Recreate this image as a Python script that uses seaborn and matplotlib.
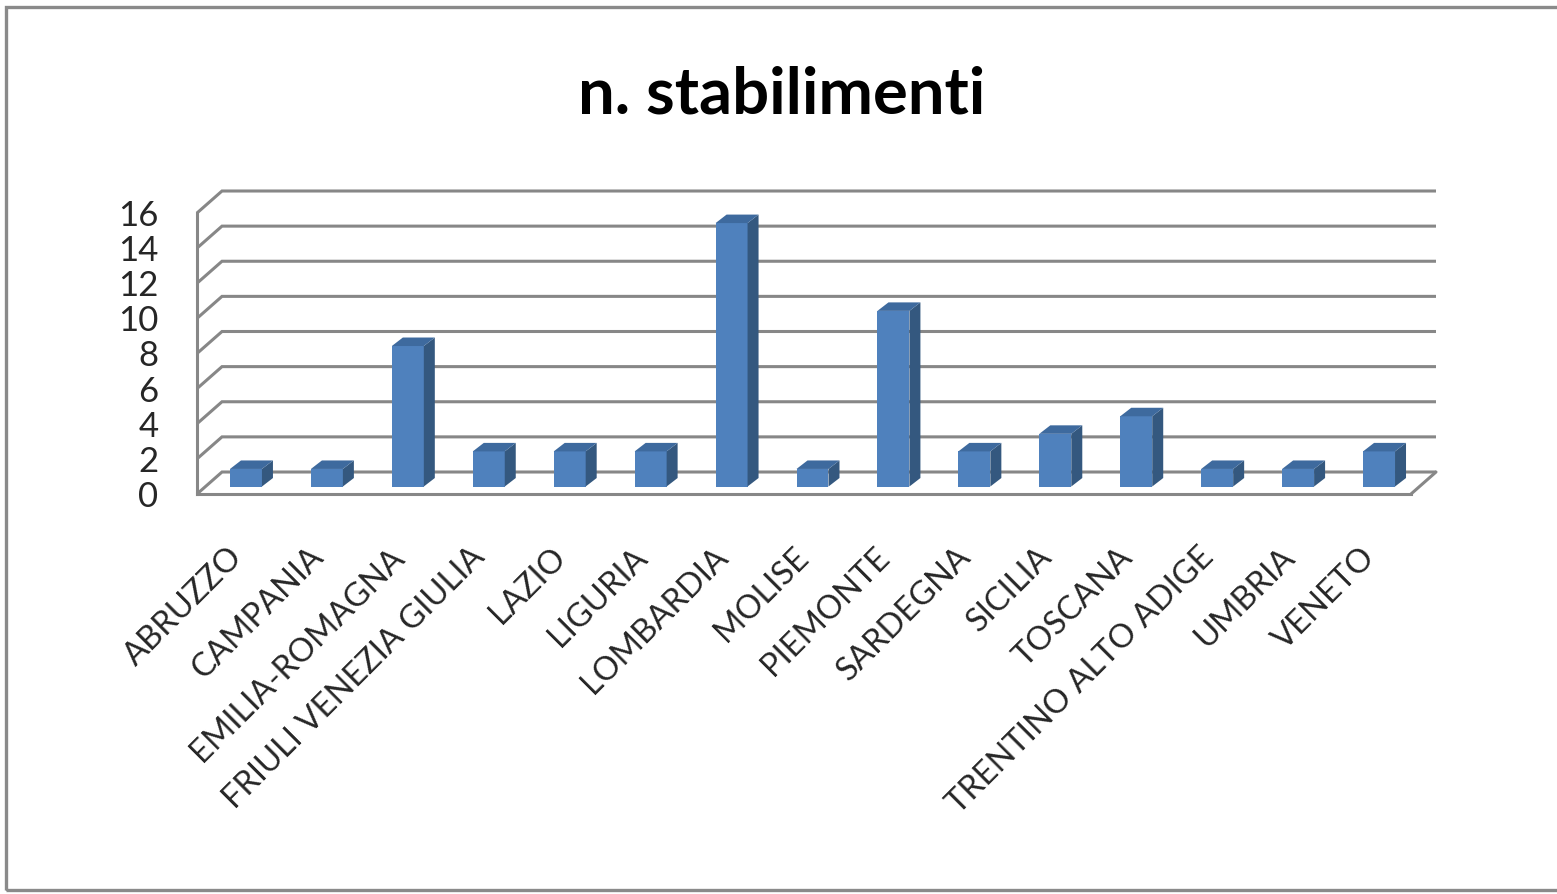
import numpy as np
import matplotlib
matplotlib.use("Agg")
import matplotlib.pyplot as plt
from matplotlib.patches import Polygon, Rectangle
import seaborn as sns

# --- data -------------------------------------------------------------
regions = ["ABRUZZO", "CAMPANIA", "EMILIA-ROMAGNA", "FRIULI VENEZIA GIULIA",
           "LAZIO", "LIGURIA", "LOMBARDIA", "MOLISE", "PIEMONTE", "SARDEGNA",
           "SICILIA", "TOSCANA", "TRENTINO ALTO ADIGE", "UMBRIA", "VENETO"]
stabilimenti = [1, 1, 8, 2, 2, 2, 15, 1, 10, 2, 3, 4, 1, 1, 2]
y_ticks = [0, 2, 4, 6, 8, 10, 12, 14, 16]
title = "n. stabilimenti"

# --- style ------------------------------------------------------------
W, H = 1557, 894
sns.set_style("white")
plt.rcParams["font.family"] = ["Lato", "DejaVu Sans"]

FRONT = "#4F81BD"
SIDE = "#34587F"
TOP = "#3E6A9E"
GRID = "#878787"

fig = plt.figure(figsize=(W / 100, H / 100), dpi=100)
fig.patch.set_facecolor("white")

# front plane of the 3D box, in pixels
left_px, right_px, floor_px, top_px = 197, 1411, 494, 213
ax = fig.add_axes([left_px / W, (H - floor_px) / H,
                   (right_px - left_px) / W, (floor_px - top_px) / H])
ax.set_facecolor("none")

n = len(regions)
x_px_per_unit = (right_px - left_px) / n
y_px_per_unit = (floor_px - top_px) / (y_ticks[-1] - y_ticks[0])

# perspective offsets (pixels converted to data units)
WALL_DX = 25 / x_px_per_unit
WALL_DY = 22 / y_px_per_unit
BAR_DEPTH = 0.34
SIDE_DX = 11 / x_px_per_unit
SIDE_DY = 8.5 / y_px_per_unit

sns.barplot(x=regions, y=stabilimenti, color=FRONT, saturation=1,
            width=0.395, edgecolor="none", ax=ax, zorder=2)
ax.set_xlim(-0.5, n - 0.5)
ax.set_ylim(y_ticks[0], y_ticks[-1])

# back wall gridlines with their receding edges on the left
for v in y_ticks:
    ax.plot([-0.5, -0.5 + WALL_DX, n - 0.5 + WALL_DX],
            [v, v + WALL_DY, v + WALL_DY],
            color=GRID, lw=2.2, clip_on=False, zorder=0.5,
            solid_capstyle="butt", solid_joinstyle="miter")
# right edge of the floor
ax.plot([n - 0.5, n - 0.5 + WALL_DX], [0, WALL_DY],
        color=GRID, lw=2.2, clip_on=False, zorder=0.5)

# push the columns into the box and give them side and top faces
for p in ax.patches:
    p.set_x(p.get_x() + BAR_DEPTH * WALL_DX)
    p.set_y(p.get_y() + BAR_DEPTH * WALL_DY)
    x0, y0 = p.get_x(), p.get_y()
    x1, y1 = x0 + p.get_width(), y0 + p.get_height()
    p.set_clip_on(False)
    side = Polygon([(x1, y0), (x1 + SIDE_DX, y0 + SIDE_DY),
                    (x1 + SIDE_DX, y1 + SIDE_DY), (x1, y1)],
                   closed=True, facecolor=SIDE, edgecolor="none",
                   clip_on=False, zorder=2)
    top = Polygon([(x0, y1), (x1, y1), (x1 + SIDE_DX, y1 + SIDE_DY),
                   (x0 + SIDE_DX, y1 + SIDE_DY)],
                  closed=True, facecolor=TOP, edgecolor="none",
                  clip_on=False, zorder=2)
    ax.add_patch(side)
    ax.add_patch(top)

# axes lines and ticks
sns.despine(ax=ax, top=True, right=True)
for s in ("left", "bottom"):
    ax.spines[s].set_color(GRID)
    ax.spines[s].set_linewidth(2.2)
    ax.spines[s].set_zorder(0.6)

ax.set_yticks(y_ticks)
ax.set_yticklabels([str(v) for v in y_ticks])
ax.tick_params(axis="y", length=10.8, width=2.2, color=GRID,
               labelsize=25, pad=17, direction="out")

ax.set_xticks(range(n))
ax.set_xticklabels(regions)
ax.set_xticks(np.arange(-0.5, n, 1.0), minor=True)
ax.tick_params(axis="x", which="major", length=0, labelsize=23.5, pad=42)
ax.tick_params(axis="x", which="minor", length=10, width=2.2, color=GRID,
               direction="out")
for lab in ax.get_xticklabels():
    lab.set_rotation(45)
    lab.set_ha("right")
    lab.set_va("center")
    lab.set_rotation_mode("anchor")

ax.set_xlabel("")
ax.set_ylabel("")
ax.grid(False)

# chart title
fig.text(782 / W, 1 - 114 / H, title, ha="center", va="baseline",
         fontsize=47, fontweight="bold", color="black")

# chart area frame
fig.add_artist(Rectangle((5.5 / W, (H - 890) / H), 2.0, (890 - 6.5) / H,
                         transform=fig.transFigure, fill=False,
                         edgecolor="#8A8A8A", lw=2.4, clip_on=False))

fig.savefig("out.png", dpi=100, facecolor="white")
